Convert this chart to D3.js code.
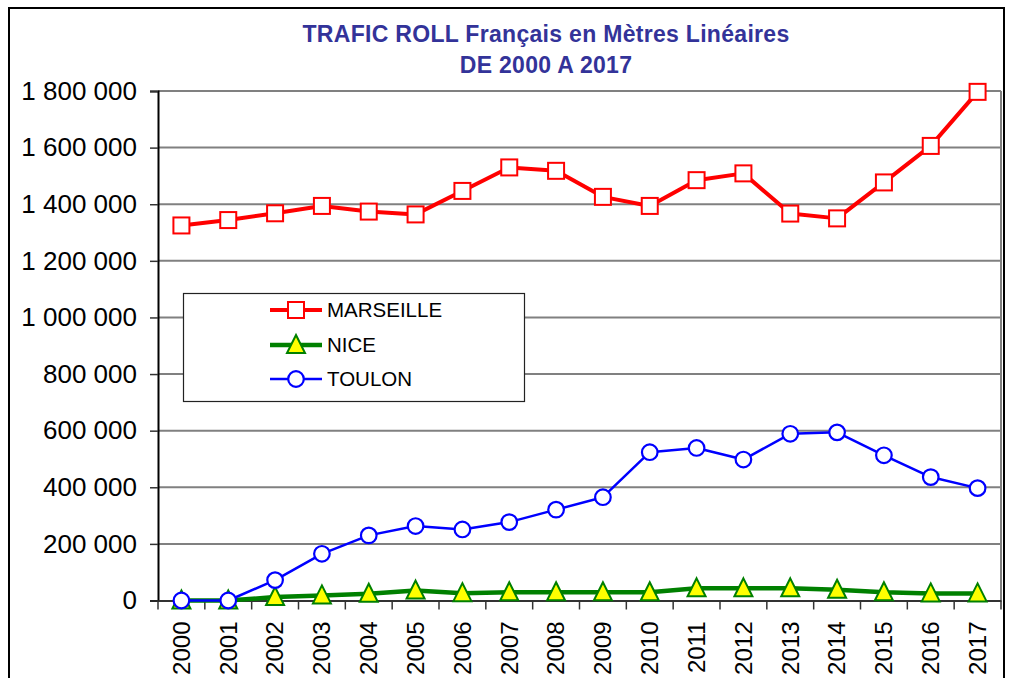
<!DOCTYPE html>
<html>
<head>
<meta charset="utf-8">
<script src="https://cdn.jsdelivr.net/npm/d3@7/dist/d3.min.js"></script>
<style>
  html, body { margin: 0; padding: 0; background: #fff; }
  svg { display: block; }
</style>
</head>
<body>
<svg id="chart" width="1009" height="678"></svg>
<script>
const years = ["2000","2001","2002","2003","2004","2005","2006","2007","2008","2009","2010","2011","2012","2013","2014","2015","2016","2017"];
const marseille = [1325000,1344000,1368000,1394000,1374000,1364000,1447000,1530000,1518000,1426000,1394000,1485000,1509000,1367000,1350000,1477000,1606000,1797000];
const nice = [0,0,12000,18000,24000,35000,26000,29000,29000,29000,29000,43000,43000,43000,38000,29000,25000,25000];
const toulon = [0,0,72000,165000,230000,263000,251000,277000,321000,365000,524000,539000,498000,589000,594000,513000,436000,397000];
const yTicks = [0,200000,400000,600000,800000,1000000,1200000,1400000,1600000,1800000];
const titleLines = ["TRAFIC ROLL Français en Mètres Linéaires", "DE 2000 A 2017"];
const seriesNames = ["MARSEILLE","NICE","TOULON"];

const svg = d3.select("#chart");
const font = "Liberation Sans, Arial, sans-serif";
const plot = {left: 158, right: 1001, top: 91, bottom: 600.5};

// outer frame
svg.append("rect").attr("x", 9).attr("y", 8).attr("width", 995).attr("height", 680)
  .attr("fill", "#fff").attr("stroke", "#000").attr("stroke-width", 2);

const x = d3.scaleBand().domain(years).range([plot.left, plot.right]).padding(0);
const y = d3.scaleLinear().domain([0, 1800000]).range([plot.bottom, plot.top]);
const cx = d => x(d) + x.bandwidth() / 2;

// title
svg.append("g").selectAll("text").data(titleLines).join("text")
  .attr("x", 546).attr("y", (d, i) => 42 + i * 31)
  .attr("text-anchor", "middle")
  .attr("font-family", font).attr("font-weight", "bold").attr("font-size", 23)
  .attr("letter-spacing", 0.3)
  .attr("fill", "#333399").text(d => d);

// gridlines
svg.append("g").selectAll("line").data(yTicks.filter(d => d > 0)).join("line")
  .attr("x1", plot.left).attr("x2", plot.right)
  .attr("y1", d => y(d)).attr("y2", d => y(d))
  .attr("stroke", "#808080").attr("stroke-width", 2);
// right border of plot
svg.append("line").attr("x1", plot.right).attr("x2", plot.right)
  .attr("y1", plot.top).attr("y2", plot.bottom)
  .attr("stroke", "#808080").attr("stroke-width", 2);

// y axis
const yAxis = d3.axisLeft(y).tickValues(yTicks).tickSize(8).tickPadding(13)
  .tickFormat(d => d3.format(",")(d).replace(/,/g, "\u00a0"));
const gy = svg.append("g").attr("transform", `translate(${plot.left},0)`).call(yAxis);
gy.select(".domain").attr("stroke", "#000").attr("stroke-width", 2);
gy.selectAll(".tick line").attr("stroke", "#333").attr("stroke-width", 1.5);
gy.selectAll(".tick text").attr("font-family", font).attr("font-size", 26).attr("fill", "#000");

// x axis
const xAxis = d3.axisBottom(x).tickSize(0).tickFormat(d => d);
const gx = svg.append("g").attr("transform", `translate(0,${plot.bottom})`).call(xAxis);
gx.select(".domain").attr("stroke", "#333").attr("stroke-width", 2);
gx.selectAll(".tick text")
  .attr("font-family", font).attr("font-size", 24).attr("fill", "#000")
  .attr("text-anchor", "end")
  .attr("transform", "translate(0,21) rotate(-90)")
  .attr("x", 0).attr("y", 0).attr("dy", "0.35em");
// category boundary ticks
svg.append("g").selectAll("line").data(years.concat(["end"])).join("line")
  .attr("x1", (d, i) => plot.left + i * x.bandwidth())
  .attr("x2", (d, i) => plot.left + i * x.bandwidth())
  .attr("y1", plot.bottom).attr("y2", plot.bottom + 9)
  .attr("stroke", "#333").attr("stroke-width", 1.5);

const line = d3.line().x((d, i) => cx(years[i])).y(d => y(d));

function squareMarker(g, px, py) {
  g.append("rect").attr("x", px - 8).attr("y", py - 8).attr("width", 16).attr("height", 16)
    .attr("fill", "#fff").attr("stroke", "#ff0000").attr("stroke-width", 2);
}
function triMarker(g, px, py) {
  g.append("path").attr("d", `M${px},${py - 10}L${px + 9},${py + 8}L${px - 9},${py + 8}Z`)
    .attr("fill", "#ffff00").attr("stroke", "#008000").attr("stroke-width", 2).attr("stroke-linejoin", "miter");
}
function circMarker(g, px, py) {
  g.append("circle").attr("cx", px).attr("cy", py).attr("r", 7.8)
    .attr("fill", "#fff").attr("stroke", "#0000ff").attr("stroke-width", 2.2);
}

const series = [
  {name: seriesNames[0], values: marseille, color: "#ff0000", width: 4, marker: squareMarker},
  {name: seriesNames[1], values: nice, color: "#008000", width: 4.5, marker: triMarker},
  {name: seriesNames[2], values: toulon, color: "#0000ff", width: 2.5, marker: circMarker}
];

series.forEach(s => {
  const g = svg.append("g");
  g.append("path").attr("d", line(s.values)).attr("fill", "none")
    .attr("stroke", s.color).attr("stroke-width", s.width).attr("stroke-linejoin", "round");
  s.values.forEach((v, i) => s.marker(g, cx(years[i]), y(v)));
});

// legend
const lg = svg.append("g");
lg.append("rect").attr("x", 183.5).attr("y", 293.5).attr("width", 341).attr("height", 108)
  .attr("fill", "#fff").attr("stroke", "#222").attr("stroke-width", 1.2);
const rowsY = [310, 345, 379];
series.forEach((s, i) => {
  lg.append("line").attr("x1", 270).attr("x2", 322).attr("y1", rowsY[i]).attr("y2", rowsY[i])
    .attr("stroke", s.color).attr("stroke-width", s.width);
  s.marker(lg, 296, rowsY[i]);
  lg.append("text").attr("x", 327).attr("y", rowsY[i]).attr("dy", "0.36em")
    .attr("font-family", font).attr("font-size", 20.5).attr("fill", "#000").text(s.name);
});
</script>
</body>
</html>
